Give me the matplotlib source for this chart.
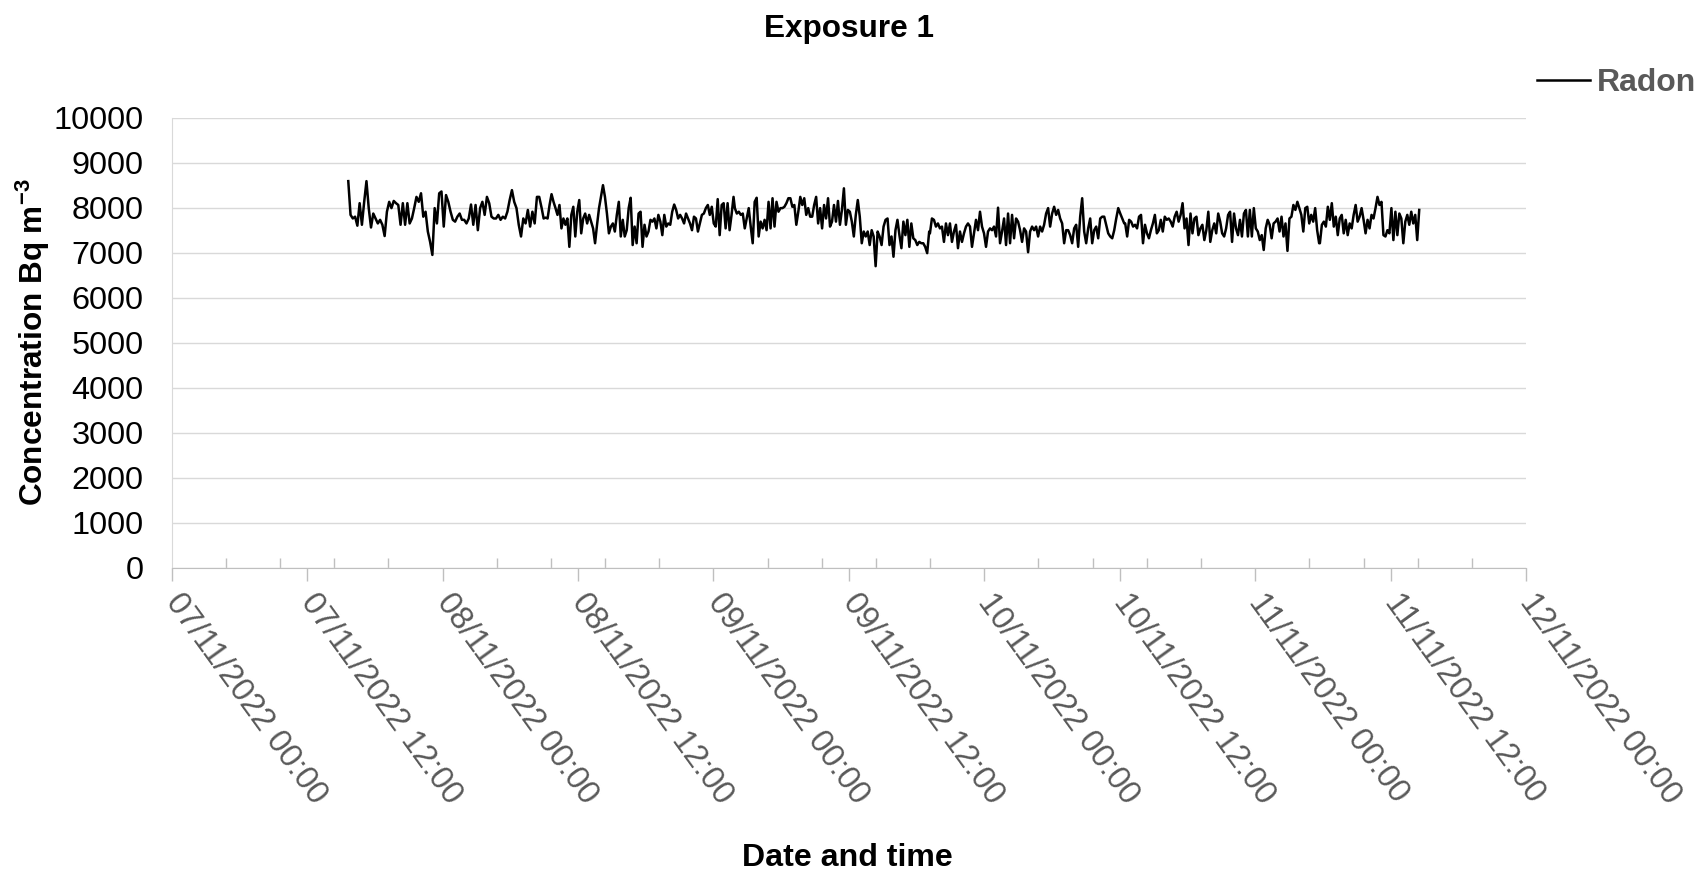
import pandas as pd
import matplotlib
matplotlib.use("Agg")
import matplotlib.pyplot as plt
import matplotlib.dates as mdates
from matplotlib.ticker import MultipleLocator

plt.rcParams["font.family"] = ["Liberation Sans", "DejaVu Sans"]
plt.rcParams["mathtext.fontset"] = "custom"
plt.rcParams["mathtext.rm"] = "Liberation Sans"
plt.rcParams["mathtext.bf"] = "Liberation Sans:bold"

# radon concentration, Bq m-3, downloaded from the monitor in six blocks
block_start = ["2022-11-07 15:39", "2022-11-08 08:47", "2022-11-09 01:54",
               "2022-11-09 19:11", "2022-11-10 12:29", "2022-11-11 05:44"]
block_end = ["2022-11-08 08:34", "2022-11-09 01:47", "2022-11-09 19:07",
             "2022-11-10 12:24", "2022-11-11 05:40", "2022-11-11 14:32"]

radon_1 = [
    8590, 7840, 7760, 7800, 7600, 8100, 7620, 8130, 8590, 7990,
    7560, 7870, 7760, 7650, 7730, 7620, 7370, 7910, 8130, 7990,
    8150, 8100, 8060, 7620, 8100, 7620, 8100, 7650, 7760, 7990,
    8240, 8130, 8320, 7800, 7910, 7470, 7240, 6950, 7990, 7650,
    8320, 8360, 7580, 8280, 8130, 7910, 7730, 7690, 7800, 7870,
    7730, 7730, 7650, 7760, 8070, 7620, 8060, 7500, 7990, 8130,
    7840, 8240, 8100, 7800, 7760, 7760, 7840, 7730, 7800, 7760,
    7910, 8170, 8390, 8130, 7990, 7620, 7360, 7760, 7650, 7950,
    7580, 7910, 7650, 8240, 8240,
]
radon_2 = [
    7990, 7760, 7780, 7760, 8060, 8300, 8130, 7990, 7840, 8060,
    7540, 7760, 7620, 7760, 7130, 7840, 8020, 7360, 7910, 8170,
    7430, 7760, 7870, 7650, 7840, 7690, 7540, 7210, 7620, 7990,
    8240, 8500, 8240, 7870, 7430, 7580, 7650, 7470, 7840, 8130,
    7360, 7730, 7360, 7500, 7990, 8220, 7170, 7580, 7210, 7870,
    7910, 7130, 7620, 7360, 7470, 7730, 7690, 7760, 7540, 7840,
    7690, 7390, 7840, 7580, 7650, 7620, 7910, 8070, 7950, 7760,
    7840, 7760, 7650, 7870, 7760, 7650, 7500, 7800, 7760, 7470,
    7650, 7840, 7870, 7990, 8060, 7840, 8020, 7650, 7580, 8190,
    7390, 8060, 8100, 7540, 8100, 7500, 7840, 8240,
]
radon_3 = [
    7990, 7870, 7910, 7840, 7870, 7540, 7760, 7990, 7580, 7210,
    8130, 8220, 7360, 7690, 7540, 7730, 7500, 8130, 7540, 8210,
    7580, 8130, 7910, 7990, 7990, 8020, 8100, 8210, 8210, 8020,
    8060, 7620, 7910, 8240, 8060, 8210, 7840, 7990, 7800, 7800,
    8060, 8240, 7650, 7990, 7540, 8060, 7760, 8210, 7580, 7690,
    8060, 7690, 8150, 7620, 7950, 8430, 7620, 7950, 7910, 7690,
    7360, 7840, 8170, 7800, 7210, 7470, 7360, 7470, 7170, 7500,
    7360, 6700, 7470, 7360, 7170, 7580, 7730, 7760, 7170, 7360,
    6910, 7500, 7730, 7390, 7100, 7690, 7390, 7730, 7130, 7650,
    7320, 7280, 7170, 7240, 7210, 7210, 7130, 6990, 7470,
]
radon_4 = [
    7430, 7760, 7730, 7580, 7650, 7540, 7580, 7240, 7650, 7390,
    7650, 7240, 7470, 7620, 7100, 7470, 7240, 7430, 7580, 7650,
    7580, 7130, 7430, 7730, 7500, 7910, 7580, 7430, 7130, 7470,
    7540, 7500, 7580, 7360, 8000, 7210, 7470, 7760, 7170, 7870,
    7210, 7840, 7320, 7760, 7690, 7500, 7240, 7540, 7470, 7010,
    7470, 7580, 7500, 7580, 7360, 7580, 7470, 7620, 7870, 7990,
    7580, 7870, 8020, 7840, 7950, 7760, 7650, 7210, 7500, 7500,
    7390, 7210, 7540, 7620, 7130, 7800, 8210, 7470, 7210, 7540,
    7760, 7210, 7500, 7580, 7320, 7760, 7800, 7800, 7620, 7430,
    7360, 7320, 7500, 7760, 7990, 7870, 7760, 7650,
]
radon_5 = [
    7650, 7360, 7730, 7690, 7580, 7620, 7540, 7800, 7840, 7210,
    7620, 7430, 7320, 7500, 7650, 7840, 7430, 7500, 7730, 7470,
    7800, 7730, 7760, 7690, 7580, 7800, 7910, 7690, 7840, 8100,
    7540, 7760, 7170, 7870, 7430, 7760, 7800, 7390, 7540, 7620,
    7280, 7500, 7910, 7240, 7500, 7650, 7430, 7870, 7690, 7430,
    7360, 7540, 7840, 7910, 7240, 7870, 7540, 7390, 7730, 7360,
    7870, 7950, 7360, 7950, 7360, 7990, 7540, 7470, 7280, 7390,
    7060, 7540, 7730, 7620, 7320, 7650, 7690, 7760, 7470, 7800,
    7360, 7650, 7040, 7760, 7800, 8060, 7950, 8130, 7990, 7840,
    7470, 7990, 8020, 7650, 7840, 7690, 7990, 7500, 7210,
]
radon_6 = [
    7210, 7620, 7690, 7580, 8020, 7730, 8100, 7580, 7800, 7390,
    7760, 7840, 7430, 7730, 7390, 7650, 7540, 7840, 8060, 7690,
    7800, 7990, 7730, 7430, 7730, 7540, 7840, 7760, 7990, 8240,
    8060, 8130, 7390, 7360, 7500, 7430, 7990, 7280, 7910, 7390,
    7870, 7760, 7210, 7690, 7840, 7620, 7910, 7650, 7840, 7280,
    7950,
]

blocks = [radon_1, radon_2, radon_3, radon_4, radon_5, radon_6]

# readings are evenly spaced inside each block
times = []
radon = []
for t0, t1, vals in zip(block_start, block_end, blocks):
    times.extend(pd.date_range(t0, t1, periods=len(vals)))
    radon.extend(vals)

fig = plt.figure(figsize=(16.96, 8.71), dpi=100)
ax = fig.add_axes([0.1012, 0.3482, 0.7986, 0.5167])

ax.plot(times, radon, color="black", lw=1.8, label="Radon")

ax.set_xlim(pd.Timestamp("2022-11-07 00:00"), pd.Timestamp("2022-11-12 00:00"))
ax.set_ylim(0, 10000)
ax.yaxis.set_major_locator(MultipleLocator(1000))
ax.grid(axis="y", color="#d9d9d9", lw=1)
ax.set_axisbelow(True)

ax.xaxis.set_major_locator(mdates.HourLocator(byhour=[0, 12]))
ax.xaxis.set_major_formatter(mdates.DateFormatter("%d/%m/%Y %H:%M"))
ax.xaxis.set_minor_locator(MultipleLocator(0.2))

ax.tick_params(axis="y", length=0, pad=20, labelsize=23.4, labelcolor="black")
ax.tick_params(axis="x", which="major", direction="out", length=9, width=1,
               color="#bfbfbf", labelsize=23.5, labelcolor="#595959", pad=12)
ax.tick_params(axis="x", which="minor", direction="in", length=7, width=1,
               color="#bfbfbf")
for lbl in ax.get_xticklabels():
    lbl.set_rotation(-54)
    lbl.set_ha("left")
    lbl.set_va("center")
    lbl.set_rotation_mode("anchor")

for side in ["top", "right"]:
    ax.spines[side].set_visible(False)
ax.spines["left"].set_color("#d9d9d9")
ax.spines["bottom"].set_color("#bfbfbf")

fig.text(0.5006, 0.967, "Exposure 1", ha="center", va="center",
         fontsize=22.7, fontweight="bold")
fig.text(0.4994, 0.0147, "Date and time", ha="center", va="center",
         fontsize=23.1, fontweight="bold")
fig.text(0.0195, 0.6069, r"Concentration Bq m$\mathbf{^{-3}}$", rotation=90,
         ha="center", va="center", fontsize=22.7, fontweight="bold")

fig.legend(loc="center left", bbox_to_anchor=(0.9063, 0.9047), frameon=False,
           prop={"size": 23, "weight": "bold"}, labelcolor="#595959",
           handlelength=1.65, handletextpad=0.22, borderpad=0, borderaxespad=0)

fig.savefig("out.png", dpi=100)
